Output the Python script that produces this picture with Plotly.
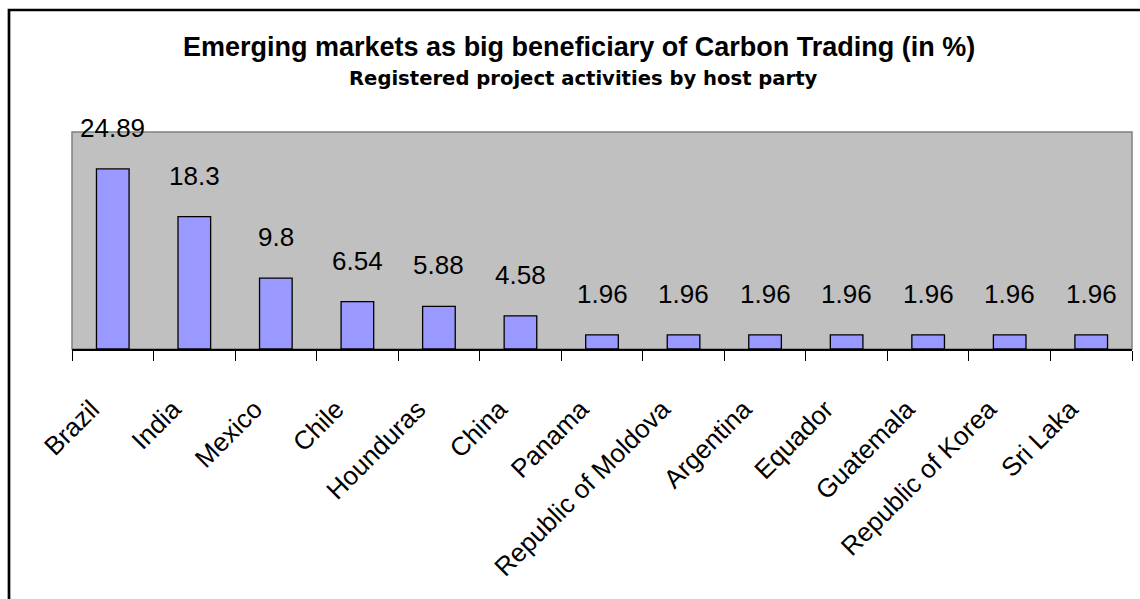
import plotly.graph_objects as go

countries = ["Brazil", "India", "Mexico", "Chile", "Hounduras", "China", "Panama",
             "Republic of Moldova", "Argentina", "Equador", "Guatemala",
             "Republic of Korea", "Sri Laka"]
shares = [24.89, 18.3, 9.8, 6.54, 5.88, 4.58, 1.96, 1.96, 1.96, 1.96, 1.96, 1.96, 1.96]
value_labels = ["24.89", "18.3", "9.8", "6.54", "5.88", "4.58", "1.96", "1.96",
                "1.96", "1.96", "1.96", "1.96", "1.96"]

title_text = "Emerging markets as big beneficiary of Carbon Trading (in %)"
subtitle_text = "Registered project activities by host party"

W, H = 1140, 599
ML, MR, MT, MB = 72, 8, 132, 250
PW = W - ML - MR
PH = H - MT - MB


def px_x(px):
    return (px - ML) / PW


def px_y(py):
    return (H - MB - py) / PH


fig = go.Figure()
fig.add_trace(go.Bar(
    x=countries, y=shares,
    marker=dict(color="#9999FF", line=dict(color="black", width=1.3)),
    width=0.4,
    hoverinfo="skip",
))

annotations = []
for c, v, t in zip(countries, shares, value_labels):
    annotations.append(dict(
        x=c, y=v, xref="x", yref="y", text=t, showarrow=False,
        yanchor="middle", xanchor="center", yshift=41,
        font=dict(family="Liberation Sans, Arial, sans-serif", size=26, color="black"),
    ))

annotations.append(dict(
    x=px_x(579), y=px_y(47), xref="paper", yref="paper", text="<b>" + title_text + "</b>",
    showarrow=False, xanchor="center", yanchor="middle",
    font=dict(family="Liberation Sans, Arial, sans-serif", size=27, color="black"),
))
annotations.append(dict(
    x=px_x(583), y=px_y(78), xref="paper", yref="paper", text="<b>" + subtitle_text + "</b>",
    showarrow=False, xanchor="center", yanchor="middle",
    font=dict(family="DejaVu Sans, sans-serif", size=19.6, color="black"),
))

shapes = [
    # plot area frame
    dict(type="rect", xref="paper", yref="paper", x0=0, x1=1, y0=0, y1=1,
         line=dict(color="#808080", width=1.5), layer="below"),
    # outer chart border (extends past the window on right and bottom)
    dict(type="rect", xref="paper", yref="paper",
         x0=px_x(9), x1=px_x(1200), y0=px_y(650), y1=px_y(10),
         line=dict(color="black", width=2.7), layer="above"),
]

fig.update_layout(
    width=W, height=H,
    margin=dict(l=ML, r=MR, t=MT, b=MB, pad=0),
    paper_bgcolor="white",
    plot_bgcolor="#C0C0C0",
    showlegend=False,
    annotations=annotations,
    shapes=shapes,
    bargap=0.6,
)
fig.update_xaxes(
    type="category",
    tickson="boundaries",
    ticks="outside", ticklen=10, tickcolor="black", tickwidth=1,
    showline=True, linecolor="black", linewidth=1.5,
    tickangle=-45,
    tickfont=dict(family="Liberation Sans, Arial, sans-serif", size=26, color="black"),
    showgrid=False, zeroline=False,
    ticklabelstandoff=33, ticklabelshift=-21,
)
fig.update_yaxes(
    range=[0, 30], showticklabels=False, showgrid=False, zeroline=False,
    showline=False, ticks="",
)

fig.write_html("out.html")
